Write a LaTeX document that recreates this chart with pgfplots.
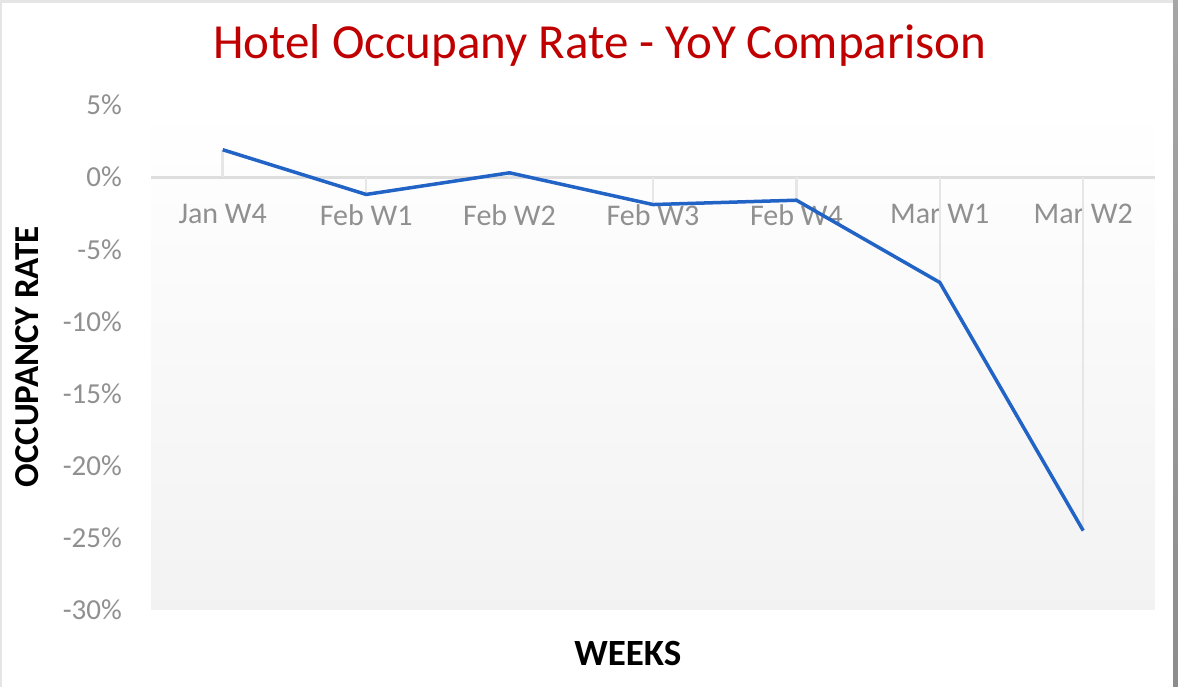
\documentclass[border=0pt]{standalone}
\usepackage{fontspec}
\setmainfont{Carlito}
\usepackage{pgfplots}
\usepackage{pgfplotstable}
\pgfplotsset{compat=1.18}
\definecolor{titlered}{HTML}{C00000}
\definecolor{lineblue}{HTML}{2263C6}
\definecolor{ticklab}{HTML}{909090}
\definecolor{zeroline}{HTML}{DDDDDD}
\definecolor{dropgray}{HTML}{E6E6E6}

\pgfplotstableread{
x y
0 1.9
1 -1.2
2 0.3
3 -1.9
4 -1.6
5 -7.3
6 -24.5
}\occ

\pgfplotstableread{
x y
-0.5 0
6.5 0
}\zero

\begin{document}
\begin{tikzpicture}
\path[use as bounding box] (0pt,0pt) rectangle (1178pt,687pt);
\fill[white] (0pt,0pt) rectangle (1178pt,687pt);
\fill[black!10] (0pt,684pt) rectangle (1173pt,687pt);
\fill[black!10] (0pt,0pt) rectangle (1.5pt,687pt);
\shade[top color=black!35, bottom color=black!45] (1173pt,0pt) rectangle (1178pt,687pt);
\begin{axis}[
  at={(151pt,77pt)}, anchor=south west,
  scale only axis, width=1004pt, height=505pt,
  xmin=-0.5, xmax=6.5, ymin=-30, ymax=5,
  axis line style={draw=none},
  axis background/.style={shade, top color=white, bottom color=black!5},
  major tick length=0pt,
  xtick={0,...,6},
  xticklabels={Jan W4, Feb W1, Feb W2, Feb W3, Feb W4, Mar W1, Mar W2},
  ytick={-30,-25,-20,-15,-10,-5,0,5},
  yticklabels={-30\%,-25\%,-20\%,-15\%,-10\%,-5\%,0\%,5\%},
  xticklabel style={font=\fontsize{30}{34}\selectfont, text=ticklab, inner sep=0pt, anchor=north, yshift=406pt},
  yticklabel style={font=\fontsize{29}{34}\selectfont, text=ticklab, inner sep=0pt, anchor=east, xshift=-29pt},
  title={Hotel Occupany Rate - YoY Comparison},
  title style={at={(0.447,1.080)}, anchor=base, inner sep=0pt, font=\fontsize{49}{56}\selectfont, text=titlered},
  xlabel={WEEKS},
  xlabel style={at={(0.475,-0.109)}, anchor=base, inner sep=0pt, font=\fontsize{37}{42}\selectfont\bfseries},
  ylabel={OCCUPANCY RATE},
  ylabel style={at={(-0.1235,0.501)}, anchor=center, inner sep=0pt, font=\fontsize{35}{40}\selectfont\bfseries},
  clip=false,
]
\addplot[draw=zeroline, line width=3pt] table {\zero};
\addplot[ycomb, draw=dropgray, line width=2.5pt] table {\occ};
\addplot[draw=lineblue, line width=3.5pt] table {\occ};
\end{axis}
\end{tikzpicture}
\end{document}
